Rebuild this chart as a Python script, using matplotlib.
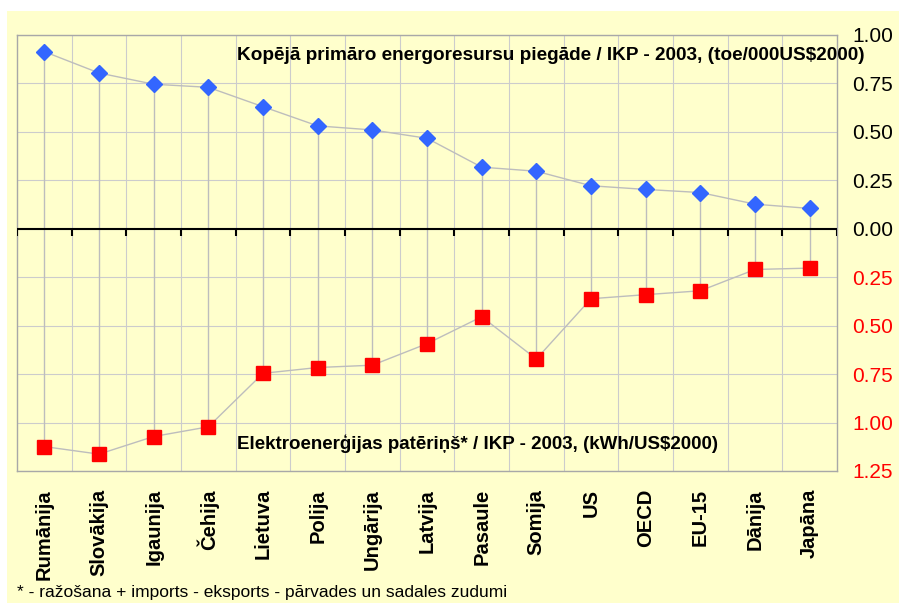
import matplotlib.pyplot as plt
from matplotlib.patches import Rectangle
import numpy as np

plt.rcParams['font.family'] = ['Liberation Sans', 'DejaVu Sans']

# data
countries = ['Rumānija', 'Slovākija', 'Igaunija', 'Čehija', 'Lietuva', 'Polija',
             'Ungārija', 'Latvija', 'Pasaule', 'Somija', 'US', 'OECD', 'EU-15',
             'Dānija', 'Japāna']
tpes_gdp = [0.914, 0.804, 0.746, 0.730, 0.630, 0.531, 0.510, 0.467, 0.318,
            0.297, 0.222, 0.203, 0.187, 0.127, 0.105]
elec_gdp = [1.124, 1.163, 1.072, 1.022, 0.746, 0.716, 0.704, 0.593, 0.454,
            0.672, 0.361, 0.340, 0.320, 0.210, 0.203]
yticks = [-1.25, -1.0, -0.75, -0.5, -0.25, 0.0, 0.25, 0.5, 0.75, 1.0]

top_label = 'Kopējā primāro energoresursu piegāde / IKP - 2003, (toe/000US$2000)'
bottom_label = 'Elektroenerģijas patēriņš* / IKP - 2003, (kWh/US$2000)'
footnote = '* - ražošana + imports - eksports - pārvades un sadales zudumi'

yellow = '#FFFFCC'
grid_c = '#CCCCCC'
line_c = '#BDBDBD'

x = np.arange(len(countries))
top = np.array(tpes_gdp)
bottom = -np.array(elec_gdp)

fig = plt.figure(figsize=(8.99, 6.03), dpi=100, facecolor='white')
bg = Rectangle((7 / 899, 0), 1 - 7 / 899, 1 - 11 / 603,
               transform=fig.transFigure, facecolor=yellow, edgecolor='none',
               zorder=-1)
fig.add_artist(bg)
ax = fig.add_axes([17 / 899, 132 / 603, 820 / 899, 436 / 603])
ax.set_zorder(1)
ax.set_facecolor(yellow)

ax.set_xlim(-0.5, len(countries) - 0.5)
ax.set_ylim(-1.25, 1.0)

# grid: horizontal at ticks, vertical at category boundaries
for yv in yticks:
    ax.axhline(yv, color=grid_c, lw=0.8, zorder=1)
bounds = np.arange(len(countries) - 1) + 0.5
ax.vlines(bounds, -1.25, 1.0, color=grid_c, lw=0.8, zorder=1)

# high-low lines between the two series
ax.vlines(x, bottom, top, color=line_c, lw=1, zorder=2)

# zero axis with small ticks
ax.axhline(0, color='black', lw=1.5, zorder=3)
ax.vlines(np.concatenate([[-0.5], bounds, [len(countries) - 0.5]]), -0.035, 0,
          color='black', lw=1.5, zorder=3)

ax.plot(x, top, color=line_c, lw=1, marker='D', ms=8, mfc='#3366FF',
        mec='#3366FF', zorder=4)
ax.plot(x, bottom, color=line_c, lw=1, marker='s', ms=9.5, mfc='#FF0000',
        mec='#FF0000', zorder=4)

ax.yaxis.tick_right()
ax.set_yticks(yticks)
ax.set_yticklabels(['%.2f' % abs(v) for v in yticks], fontsize=15)
for lab, v in zip(ax.get_yticklabels(), yticks):
    lab.set_color('red' if v < 0 else 'black')
ax.tick_params(axis='y', length=0, pad=11)

ax.set_xticks(x)
ax.set_xticklabels(countries, rotation=90, fontsize=14.5, fontweight='bold',
                   va='top', ha='center')
ax.tick_params(axis='x', length=0, pad=13)

for s in ax.spines.values():
    s.set_color('#A8A8A8')
    s.set_linewidth(1)

ax.text(0.268, 0.954, top_label, transform=ax.transAxes, fontsize=13.7,
        fontweight='bold', va='center', ha='left', zorder=5)
ax.text(0.268, 0.062, bottom_label, transform=ax.transAxes, fontsize=13.5,
        fontweight='bold', va='center', ha='left', zorder=5)

fig.text(17 / 899, 11 / 603, footnote, fontsize=12.5, va='center', ha='left')

fig.savefig('out.png', dpi=100, facecolor=fig.get_facecolor())
